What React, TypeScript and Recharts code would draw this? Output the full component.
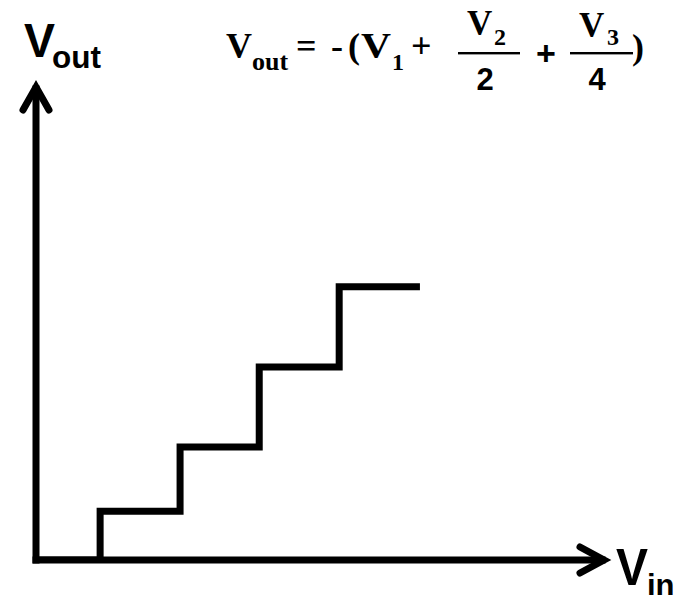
import React from 'react'
import {
  LineChart,
  Line,
  XAxis,
  YAxis,
  ReferenceLine,
  ReferenceDot,
  Customized,
} from 'recharts'

// staircase output of the 3-bit summing amplifier
const vin = [0, 0.81, 1.82, 2.82, 3.83, 4.85]
const vout = [0, 0.62, 1.44, 2.46, 3.48, 3.48]

const X_MAX = 7.15
const Y_MAX = 6

const chartData = vin.map((v, i) => ({ vin: v, vout: vout[i] }))

function ArrowUp(props: any) {
  const { cx, cy } = props
  return (
    <path
      d={`M${cx - 13},${cy + 21} L${cx},${cy - 2} L${cx + 13},${cy + 21}`}
      fill="none"
      stroke="#000"
      strokeWidth={7}
      strokeLinecap="round"
      strokeLinejoin="miter"
    />
  )
}

function ArrowRight(props: any) {
  const { cx, cy } = props
  return (
    <path
      d={`M${cx - 22},${cy - 13} L${cx + 2},${cy} L${cx - 22},${cy + 13}`}
      fill="none"
      stroke="#000"
      strokeWidth={7}
      strokeLinecap="round"
      strokeLinejoin="miter"
    />
  )
}

const serif = '"Liberation Serif", "Times New Roman", serif'
const sans = '"Liberation Sans", Arial, sans-serif'

function Labels() {
  return (
    <g fill="#000">
      {/* axis labels */}
      <text x={24} y={57} fontFamily={sans} fontWeight="bold" fontSize={49} textLength={31} lengthAdjust="spacingAndGlyphs">V</text>
      <text x={52} y={68} fontFamily={sans} fontWeight="bold" fontSize={31} textLength={49} lengthAdjust="spacingAndGlyphs">out</text>
      <text x={616} y={585} fontFamily={sans} fontWeight="bold" fontSize={51} textLength={32} lengthAdjust="spacingAndGlyphs">V</text>
      <text x={647} y={596} fontFamily={sans} fontWeight="bold" fontSize={31}>in</text>

      {/* Vout = -(V1 + V2/2 + V3/4) */}
      <g fontFamily={serif} fontWeight="bold">
        <text x={226} y={58} fontSize={36}>V</text>
        <text x={252} y={70} fontSize={26}>out</text>
        <text x={296} y={58} fontSize={36}>=</text>
        <text x={331} y={58} fontSize={36}>-</text>
        <text x={348} y={58} fontSize={36}>(</text>
        <text x={361} y={58} fontSize={36} textLength={30} lengthAdjust="spacingAndGlyphs">V</text>
        <text x={392} y={70} fontSize={24}>1</text>
        <text x={411} y={58} fontSize={36}>+</text>

        <text x={467} y={35} fontSize={35}>V</text>
        <text x={494} y={45} fontSize={24}>2</text>
        <rect x={458} y={52} width={62} height={2.4} />
        <text x={485} y={90} fontSize={31} fontFamily={sans} textAnchor="middle">2</text>

        <text x={546} y={65} fontSize={34} fontFamily={sans} textAnchor="middle">+</text>

        <text x={579} y={37} fontSize={35}>V</text>
        <text x={607} y={45} fontSize={24}>3</text>
        <rect x={570} y={52} width={63} height={2.4} />
        <text x={597} y={90} fontSize={31} fontFamily={sans} textAnchor="middle">4</text>
        <text x={632} y={59} fontSize={36}>)</text>
      </g>
    </g>
  )
}

export default function App() {
  return (
    <div style={{ position: 'absolute', left: 0, top: 0, width: 677, height: 595, background: '#fff' }}>
      <LineChart
        width={677}
        height={595}
        data={chartData}
        margin={{ top: 89, right: 75, bottom: 35, left: 36 }}
      >
        <XAxis type="number" dataKey="vin" domain={[0, X_MAX]} allowDataOverflow hide />
        <YAxis type="number" domain={[0, Y_MAX]} allowDataOverflow hide />
        {/* the two axes, drawn heavy with square ends */}
        <ReferenceLine
          y={0}
          stroke="#000"
          strokeWidth={7}
          strokeLinecap="square"
          ifOverflow="visible"
        />
        <ReferenceLine
          x={0}
          stroke="#000"
          strokeWidth={7}
          strokeLinecap="square"
          ifOverflow="visible"
        />
        <Line
          type="stepAfter"
          dataKey="vout"
          stroke="#000"
          strokeWidth={7}
          dot={false}
          activeDot={false}
          isAnimationActive={false}
        />
        <ReferenceDot x={0} y={Y_MAX} r={0} ifOverflow="visible" shape={ArrowUp} />
        <ReferenceDot x={X_MAX} y={0} r={0} ifOverflow="visible" shape={ArrowRight} />
        <Customized component={Labels} />
      </LineChart>
    </div>
  )
}
